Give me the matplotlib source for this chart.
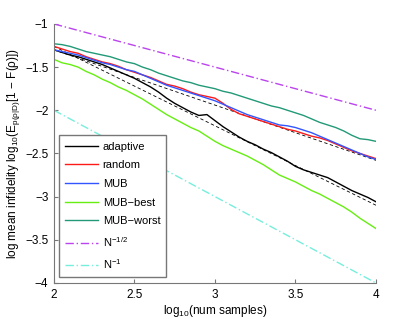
import numpy as np
import matplotlib
matplotlib.use("Agg")
import matplotlib.pyplot as plt

plt.rcParams['font.family'] = ['Liberation Sans', 'DejaVu Sans']
plt.rcParams['mathtext.fontset'] = 'custom'
plt.rcParams['mathtext.rm'] = 'Liberation Sans'
plt.rcParams['mathtext.it'] = 'Liberation Sans'

# log10(num samples)
x = np.arange(41) * 0.05 + 2.0

adaptive = [-1.30, -1.33, -1.36, -1.38, -1.41, -1.44, -1.47, -1.51, -1.55, -1.59,
            -1.63, -1.68, -1.73, -1.79, -1.86, -1.92, -1.97, -2.02, -2.06, -2.05,
            -2.12, -2.19, -2.25, -2.31, -2.36, -2.40, -2.45, -2.49, -2.54, -2.59,
            -2.65, -2.69, -2.72, -2.75, -2.78, -2.83, -2.88, -2.93, -2.97, -3.01, -3.06]
random_ = [-1.26, -1.29, -1.32, -1.34, -1.38, -1.41, -1.44, -1.46, -1.49, -1.53,
           -1.56, -1.59, -1.62, -1.66, -1.70, -1.72, -1.75, -1.79, -1.82, -1.84,
           -1.86, -1.92, -1.99, -2.04, -2.07, -2.10, -2.13, -2.16, -2.19, -2.22,
           -2.24, -2.27, -2.30, -2.32, -2.35, -2.39, -2.43, -2.47, -2.50, -2.53, -2.56]
mub = [-1.30, -1.32, -1.34, -1.36, -1.39, -1.42, -1.45, -1.47, -1.50, -1.53,
       -1.55, -1.59, -1.63, -1.67, -1.71, -1.74, -1.77, -1.80, -1.83, -1.86,
       -1.89, -1.93, -1.97, -2.01, -2.05, -2.08, -2.11, -2.14, -2.17, -2.18,
       -2.20, -2.23, -2.26, -2.30, -2.34, -2.38, -2.42, -2.46, -2.50, -2.54, -2.57]
mub_best = [-1.41, -1.45, -1.47, -1.50, -1.55, -1.59, -1.64, -1.68, -1.73, -1.77,
            -1.82, -1.87, -1.93, -1.99, -2.05, -2.10, -2.15, -2.20, -2.24, -2.30,
            -2.36, -2.41, -2.45, -2.49, -2.53, -2.58, -2.63, -2.69, -2.75, -2.79,
            -2.83, -2.88, -2.93, -2.97, -3.02, -3.07, -3.12, -3.18, -3.25, -3.31, -3.37]
mub_worst = [-1.23, -1.24, -1.26, -1.29, -1.32, -1.34, -1.36, -1.38, -1.41, -1.44,
             -1.46, -1.50, -1.53, -1.57, -1.60, -1.63, -1.66, -1.68, -1.71, -1.73,
             -1.75, -1.78, -1.80, -1.83, -1.86, -1.89, -1.92, -1.95, -1.97, -2.00,
             -2.03, -2.06, -2.10, -2.14, -2.17, -2.20, -2.24, -2.29, -2.33, -2.34, -2.36]

# fit lines and reference scalings (end points)
fit_x = [2.0, 4.0]
fit_adaptive = [-1.26, -3.10]
fit_random = [-1.30, -2.58]
ref_half = [-1.0, -2.0]
ref_one = [-2.0, -4.0]

fig = plt.figure(figsize=(4.15, 3.19), dpi=100)
ax = fig.add_axes([0.130, 0.113, 0.776, 0.812])

ax.plot(fit_x, fit_random, color='k', ls=(0, (4, 3)), lw=0.6)
ax.plot(fit_x, fit_adaptive, color='k', ls=(0, (4, 3)), lw=0.6)

ax.plot(x, adaptive, color='black', lw=1.0, label='adaptive')
ax.plot(x, random_, color='#ff1a1a', lw=1.0, label='random')
ax.plot(x, mub, color='#3355ff', lw=1.0, label='MUB')
ax.plot(x, mub_best, color='#66ee11', lw=1.0, label='MUB\u2212best')
ax.plot(x, mub_worst, color='#229977', lw=1.0, label='MUB\u2212worst')
ax.plot(fit_x, ref_half, color='#bb44ee', lw=1.0, ls=(0, (6, 2, 1, 2)), label='N$^{-1/2}$')
ax.plot(fit_x, ref_one, color='#77eedd', lw=1.0, ls=(0, (6, 2, 1, 2)), label='N$^{-1}$')

ax.set_xlim(2, 4)
ax.set_ylim(-4, -1)
ax.set_xticks([2, 2.5, 3, 3.5, 4])
ax.set_xticklabels(['2', '2.5', '3', '3.5', '4'])
ax.set_yticks([-4, -3.5, -3, -2.5, -2, -1.5, -1])
ax.set_yticklabels(['\u22124', '\u22123.5', '\u22123', '\u22122.5', '\u22122', '\u22121.5', '\u22121'])
ax.tick_params(direction='in', length=3, labelsize=8.5, color='#777777', pad=4)
for s in ['top', 'right']:
    ax.spines[s].set_visible(False)
for s in ['left', 'bottom']:
    ax.spines[s].set_color('#777777')

ax.set_xlabel('log$_{10}$(num samples)', fontsize=8.5, labelpad=2)
ax.set_ylabel('log mean infidelity log$_{10}$(E$_{p(\u03c1|D)}$[1 \u2212 F(\u03c1)])', fontsize=8.5, labelpad=2)

leg = ax.legend(loc='lower left', bbox_to_anchor=(0.015, 0.022), fontsize=8,
                handlelength=3.0, handletextpad=0.4, labelspacing=0.78,
                borderpad=0.55, borderaxespad=0, fancybox=False,
                framealpha=1, edgecolor='#777777')
leg.get_frame().set_linewidth(1.0)

fig.savefig('out.png', dpi=100)
